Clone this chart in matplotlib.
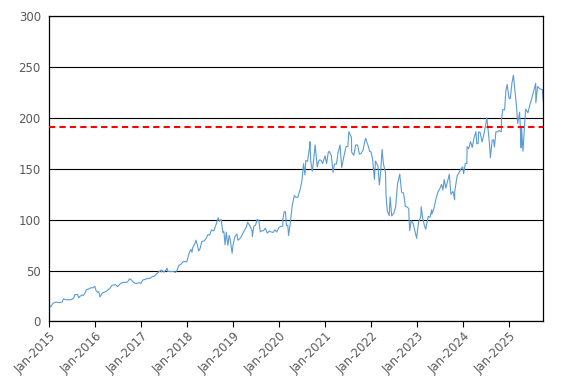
import numpy as np
import pandas as pd
import matplotlib
matplotlib.use("Agg")
import matplotlib.pyplot as plt
import matplotlib.dates as mdates

# price readings (roughly twice a month, plus swings)
dates_2015 = ["2015-01-02", "2015-01-15", "2015-01-30", "2015-02-13", "2015-02-27", "2015-03-13",
              "2015-03-31", "2015-04-15", "2015-04-24", "2015-05-15", "2015-05-29", "2015-06-15",
              "2015-06-30", "2015-07-15", "2015-07-24", "2015-08-14", "2015-08-24", "2015-09-15",
              "2015-09-30", "2015-10-15", "2015-10-23", "2015-11-13", "2015-11-30", "2015-12-15",
              "2015-12-29"]
price_2015 = [15.4, 14.6, 17.7, 18.7, 19.1, 18.6, 18.6, 19.3, 22.3, 21.3, 21.5, 21.2,
              21.7, 23.0, 26.4, 26.6, 23.5, 26.0, 25.6, 28.5, 31.3, 32.0, 33.2, 33.1, 34.6]

dates_2016 = ["2016-01-08", "2016-01-20", "2016-01-29", "2016-02-09", "2016-02-26", "2016-03-15",
              "2016-03-31", "2016-04-15", "2016-04-29", "2016-05-13", "2016-05-31", "2016-06-15",
              "2016-06-27", "2016-07-15", "2016-07-29", "2016-08-15", "2016-08-31", "2016-09-15",
              "2016-09-30", "2016-10-14", "2016-10-28", "2016-11-15", "2016-11-30", "2016-12-15",
              "2016-12-30"]
price_2016 = [30.4, 28.6, 29.3, 24.1, 27.8, 28.9, 29.7, 31.3, 32.9, 35.5, 36.0, 35.7,
              34.2, 36.7, 37.9, 38.4, 38.4, 38.9, 41.9, 41.0, 38.8, 37.4, 37.5, 38.1, 37.5]

dates_2017 = ["2017-01-13", "2017-01-31", "2017-02-15", "2017-02-28", "2017-03-15", "2017-03-31",
              "2017-04-13", "2017-04-28", "2017-05-15", "2017-05-31", "2017-06-08", "2017-06-09",
              "2017-06-20", "2017-06-30", "2017-07-14", "2017-07-27", "2017-07-28", "2017-08-15",
              "2017-08-31", "2017-09-15", "2017-09-29", "2017-10-13", "2017-10-27", "2017-11-15",
              "2017-11-30", "2017-12-15", "2017-12-29"]
price_2017 = [40.8, 41.2, 42.2, 42.3, 42.6, 44.3, 44.3, 46.2, 48.3, 49.7, 50.6, 48.5,
              50.0, 48.4, 50.2, 52.3, 49.3, 49.2, 49.0, 49.3, 48.1, 50.3, 55.0, 56.5,
              58.8, 58.9, 58.5]

dates_2018 = ["2018-01-12", "2018-01-29", "2018-02-08", "2018-02-15", "2018-02-28", "2018-03-12",
              "2018-03-23", "2018-04-02", "2018-04-13", "2018-04-27", "2018-05-15", "2018-05-31",
              "2018-06-15", "2018-06-29", "2018-07-13", "2018-07-31", "2018-08-15", "2018-08-31",
              "2018-09-04", "2018-09-14", "2018-09-28", "2018-10-11", "2018-10-19", "2018-10-29",
              "2018-11-07", "2018-11-20", "2018-11-30", "2018-12-07", "2018-12-24", "2018-12-31"]
price_2018 = [65.3, 70.9, 68.1, 73.0, 75.6, 79.9, 75.0, 69.2, 71.5, 78.6, 79.1, 81.5,
              85.4, 85.0, 90.1, 88.9, 94.0, 100.6, 101.9, 98.5, 100.2, 87.4, 88.5, 75.4,
              87.7, 74.8, 84.5, 81.5, 67.2, 75.1]

dates_2019 = ["2019-01-15", "2019-01-31", "2019-02-08", "2019-02-28", "2019-03-15", "2019-03-29",
              "2019-04-15", "2019-04-26", "2019-05-15", "2019-05-31", "2019-06-03", "2019-06-14",
              "2019-06-28", "2019-07-10", "2019-07-24", "2019-07-26", "2019-08-05", "2019-08-15",
              "2019-08-30", "2019-09-13", "2019-09-30", "2019-10-15", "2019-10-25", "2019-11-15",
              "2019-11-29", "2019-12-13", "2019-12-31"]
price_2019 = [83.4, 86.0, 79.8, 82.0, 85.7, 89.0, 92.5, 97.5, 93.8, 88.8, 83.6, 93.5,
              94.7, 100.2, 99.3, 97.0, 88.0, 89.0, 89.2, 91.7, 86.8, 88.9, 88.1, 87.5,
              90.0, 88.0, 92.4]

dates_2020 = ["2020-01-15", "2020-01-30", "2020-01-31", "2020-02-10", "2020-02-20", "2020-02-28",
              "2020-03-10", "2020-03-16", "2020-03-31", "2020-04-14", "2020-04-30", "2020-05-15",
              "2020-05-29", "2020-06-15", "2020-06-30", "2020-07-13", "2020-07-24", "2020-07-31",
              "2020-08-14", "2020-08-31", "2020-09-02", "2020-09-08", "2020-09-21", "2020-09-30",
              "2020-10-13", "2020-10-30", "2020-11-09", "2020-11-17", "2020-11-30", "2020-12-11",
              "2020-12-31"]
price_2020 = [93.5, 93.6, 100.4, 107.7, 108.0, 94.2, 94.6, 84.5, 97.5, 114.0, 123.7, 122.0,
              122.1, 129.3, 137.9, 155.0, 144.0, 158.2, 157.4, 172.5, 176.6, 157.5, 147.7, 157.4,
              173.5, 151.8, 157.2, 158.8, 158.4, 155.2, 162.8]

dates_2021 = ["2021-01-12", "2021-01-26", "2021-02-03", "2021-02-19", "2021-03-04", "2021-03-15",
              "2021-03-31", "2021-04-14", "2021-04-29", "2021-05-12", "2021-05-28", "2021-06-15",
              "2021-06-30", "2021-07-08", "2021-07-29", "2021-07-30", "2021-08-16", "2021-08-31",
              "2021-09-15", "2021-09-30", "2021-10-13", "2021-10-29", "2021-11-12", "2021-11-19",
              "2021-11-30", "2021-12-10", "2021-12-20", "2021-12-31"]
price_2021 = [155.2, 166.5, 167.0, 163.0, 146.6, 154.6, 154.7, 166.4, 173.4, 151.2, 161.2, 171.6,
              172.0, 186.6, 180.6, 166.4, 163.3, 173.5, 173.3, 164.3, 165.0, 168.6, 177.2, 180.0,
              175.4, 172.1, 167.0, 166.7]

dates_2022 = ["2022-01-13", "2022-01-27", "2022-02-04", "2022-02-15", "2022-02-24", "2022-03-07",
              "2022-03-15", "2022-03-29", "2022-04-08", "2022-04-25", "2022-04-29", "2022-05-09",
              "2022-05-24", "2022-06-01", "2022-06-13", "2022-06-30", "2022-07-15", "2022-07-29",
              "2022-08-16", "2022-08-31", "2022-09-15", "2022-09-30", "2022-10-13", "2022-10-27",
              "2022-10-28", "2022-11-03", "2022-11-15", "2022-11-30", "2022-12-15", "2022-12-28",
              "2022-12-30"]
price_2022 = [158.9, 139.6, 157.6, 155.0, 152.6, 134.2, 143.0, 169.1, 155.0, 146.1, 124.3, 108.8,
              104.1, 122.4, 103.7, 106.2, 113.0, 134.9, 144.8, 127.0, 126.3, 113.0, 112.5, 110.9,
              103.4, 89.3, 98.9, 96.5, 88.5, 81.8, 84.0]

dates_2023 = ["2023-01-13", "2023-01-31", "2023-02-02", "2023-02-15", "2023-02-28", "2023-03-10",
              "2023-03-31", "2023-04-13", "2023-04-27", "2023-04-28", "2023-05-15", "2023-05-31",
              "2023-06-15", "2023-06-30", "2023-07-14", "2023-07-25", "2023-08-04", "2023-08-17",
              "2023-08-31", "2023-09-14", "2023-09-26", "2023-10-13", "2023-10-26", "2023-10-27",
              "2023-11-15", "2023-11-30", "2023-12-15", "2023-12-29"]
price_2023 = [98.1, 103.1, 112.9, 101.2, 94.2, 90.7, 103.3, 102.4, 109.8, 105.5, 111.2, 120.6,
              127.1, 130.4, 134.7, 129.1, 139.6, 131.0, 138.0, 144.7, 125.0, 127.7, 119.6, 127.7,
              143.2, 146.1, 149.9, 151.9]

dates_2024 = ["2024-01-05", "2024-01-19", "2024-01-31", "2024-02-02", "2024-02-15", "2024-02-29",
              "2024-03-14", "2024-03-28", "2024-04-12", "2024-04-19", "2024-04-30", "2024-05-03",
              "2024-05-15", "2024-05-31", "2024-06-14", "2024-06-28", "2024-07-08", "2024-07-24",
              "2024-08-02", "2024-08-05", "2024-08-19", "2024-08-30", "2024-09-06", "2024-09-18",
              "2024-09-30", "2024-10-15", "2024-10-31", "2024-11-01", "2024-11-11", "2024-11-26",
              "2024-12-06", "2024-12-16", "2024-12-31"]
price_2024 = [145.2, 155.3, 155.2, 171.8, 169.8, 176.8, 171.0, 180.4, 186.5, 174.6, 175.0, 186.2,
              185.9, 176.4, 183.7, 193.3, 200.0, 180.8, 167.9, 161.0, 178.2, 178.5, 171.4, 186.4,
              186.3, 187.7, 186.4, 197.9, 208.2, 207.9, 227.0, 232.9, 219.4]

dates_2025 = ["2025-01-10", "2025-01-24", "2025-02-04", "2025-02-14", "2025-02-28", "2025-03-10",
              "2025-03-25", "2025-03-31", "2025-04-04", "2025-04-08", "2025-04-09", "2025-04-21",
              "2025-05-02", "2025-05-12", "2025-05-30", "2025-06-13", "2025-06-30", "2025-07-15",
              "2025-07-31", "2025-08-01", "2025-08-15", "2025-08-29", "2025-09-12", "2025-09-22",
              "2025-09-30"]
price_2025 = [218.9, 234.9, 242.1, 228.7, 212.3, 194.5, 205.7, 190.3, 171.0, 170.7, 191.1, 167.3,
              189.9, 208.6, 205.0, 212.1, 219.4, 226.4, 234.1, 214.8, 231.0, 229.0, 228.2, 227.6,
              215.5]

ref_level = 191
y_ticks = [0, 50, 100, 150, 200, 250, 300]

dates = pd.to_datetime(dates_2015 + dates_2016 + dates_2017 + dates_2018 + dates_2019 + dates_2020
                       + dates_2021 + dates_2022 + dates_2023 + dates_2024 + dates_2025)
price = np.array(price_2015 + price_2016 + price_2017 + price_2018 + price_2019 + price_2020
                 + price_2021 + price_2022 + price_2023 + price_2024 + price_2025)

fig = plt.figure(figsize=(5.72, 3.85), dpi=100)
ax = fig.add_axes([0.086, 0.165, 0.864, 0.793])

ax.plot(dates, price, color="#5B9BD5", lw=0.8)
ax.axhline(ref_level, color="#FF0000", lw=1.5, ls=(0, (3, 2)), zorder=3)

ax.set_ylim(0, 300)
ax.set_yticks(y_ticks)
ax.set_xlim(pd.Timestamp("2015-01-01"), dates[-1])
ax.yaxis.grid(True, color="black", lw=0.8)
ax.set_axisbelow(True)

ax.xaxis.set_major_locator(mdates.YearLocator())
ax.xaxis.set_major_formatter(mdates.DateFormatter("%b-%Y"))
ax.tick_params(axis="x", direction="out", length=4, width=0.8, colors="black",
               labelcolor="#595959", labelsize=8.5, pad=2)
ax.tick_params(axis="y", length=0, labelcolor="#595959", labelsize=8.5, pad=6)
for lab in ax.get_xticklabels():
    lab.set_rotation(45)
    lab.set_ha("right")
    lab.set_rotation_mode("anchor")

for s in ax.spines.values():
    s.set_color("black")
    s.set_linewidth(0.9)

fig.savefig("out.png", dpi=100)
